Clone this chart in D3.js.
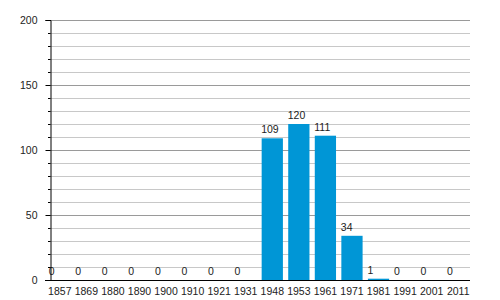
<!DOCTYPE html>
<html lang="en">
<head>
<meta charset="UTF-8">
<title>Population</title>
<script src="https://cdn.jsdelivr.net/npm/d3@7"></script>
<style>
  body { margin: 0; background: #fff; }
  text { font-family: "Liberation Sans", Arial, Helvetica, sans-serif; fill: #222; }
</style>
</head>
<body>
<div id="chart"></div>
<script>
// census years and counts
var years = ["1857", "1869", "1880", "1890", "1900", "1910", "1921", "1931",
             "1948", "1953", "1961", "1971", "1981", "1991", "2001", "2011"];
var values = [0, 0, 0, 0, 0, 0, 0, 0, 109, 120, 111, 34, 1, 0, 0, 0];
var yTicks = [0, 50, 100, 150, 200];

var width = 500, height = 300;
var plotLeft = 50, plotRight = 470, plotTop = 20, plotBottom = 280;

var svg = d3.select("#chart").append("svg")
    .attr("width", width)
    .attr("height", height);

var x = d3.scaleBand()
    .domain(years)
    .range([46.5, 471.5])
    .paddingInner(0.2)
    .paddingOuter(0.1);

var y = d3.scaleLinear()
    .domain([0, 200])
    .range([plotBottom, plotTop]);

// minor gridlines every 10
var minor = d3.range(10, 201, 10).filter(function(d) { return d % 50 !== 0; });
svg.append("g").selectAll("line")
    .data(minor)
    .enter().append("line")
    .attr("x1", plotLeft).attr("x2", plotRight)
    .attr("y1", function(d) { return Math.round(y(d)) + 0.5; })
    .attr("y2", function(d) { return Math.round(y(d)) + 0.5; })
    .attr("stroke", "#c8c8c8");

// major gridlines
svg.append("g").selectAll("line")
    .data(yTicks.filter(function(d) { return d > 0; }))
    .enter().append("line")
    .attr("x1", plotLeft).attr("x2", plotRight)
    .attr("y1", function(d) { return Math.round(y(d)) + 0.5; })
    .attr("y2", function(d) { return Math.round(y(d)) + 0.5; })
    .attr("stroke", "#9a9a9a");

// bars
svg.append("g").selectAll("rect")
    .data(values)
    .enter().append("rect")
    .attr("x", function(d, i) { return x(years[i]); })
    .attr("width", x.bandwidth())
    .attr("y", function(d) { return y(d); })
    .attr("height", function(d) { return plotBottom - y(d); })
    .attr("fill", "#0096d6");

// value labels, left aligned on bar
svg.append("g").selectAll("text")
    .data(values)
    .enter().append("text")
    .attr("x", function(d, i) { return x(years[i]) - 0.5; })
    .attr("y", function(d) { return y(d) - 5; })
    .attr("font-size", "10.5px")
    .text(function(d) { return d; });

// y axis with minor ticks
var yAxis = d3.axisLeft(y).tickValues(yTicks).tickSize(5).tickPadding(8);
var gy = svg.append("g")
    .attr("transform", "translate(" + (plotLeft + 0.5) + ",0)")
    .call(yAxis);
gy.select(".domain").attr("stroke", "#000");
gy.selectAll(".tick line").attr("stroke", "#000");
gy.selectAll("text").attr("font-size", "10.5px").attr("fill", "#222").style("font-family", "Liberation Sans, Arial, sans-serif");
var gyMinor = svg.append("g")
    .attr("transform", "translate(" + (plotLeft + 0.5) + ",0)")
    .call(d3.axisLeft(y).tickValues(minor).tickSize(2.5).tickFormat(""));
gyMinor.select(".domain").remove();
gyMinor.selectAll(".tick line").attr("stroke", "#000");

// x axis
var gx = svg.append("g")
    .attr("transform", "translate(0," + (plotBottom + 0.5) + ")")
    .call(d3.axisBottom(x).tickSize(0).tickPadding(7));
gx.select(".domain").remove();
gx.selectAll("text").attr("font-size", "10.5px").attr("fill", "#222").style("font-family", "Liberation Sans, Arial, sans-serif");
svg.append("line")
    .attr("x1", 45).attr("x2", plotRight)
    .attr("y1", plotBottom + 0.5).attr("y2", plotBottom + 0.5)
    .attr("stroke", "#000");
</script>
</body>
</html>
